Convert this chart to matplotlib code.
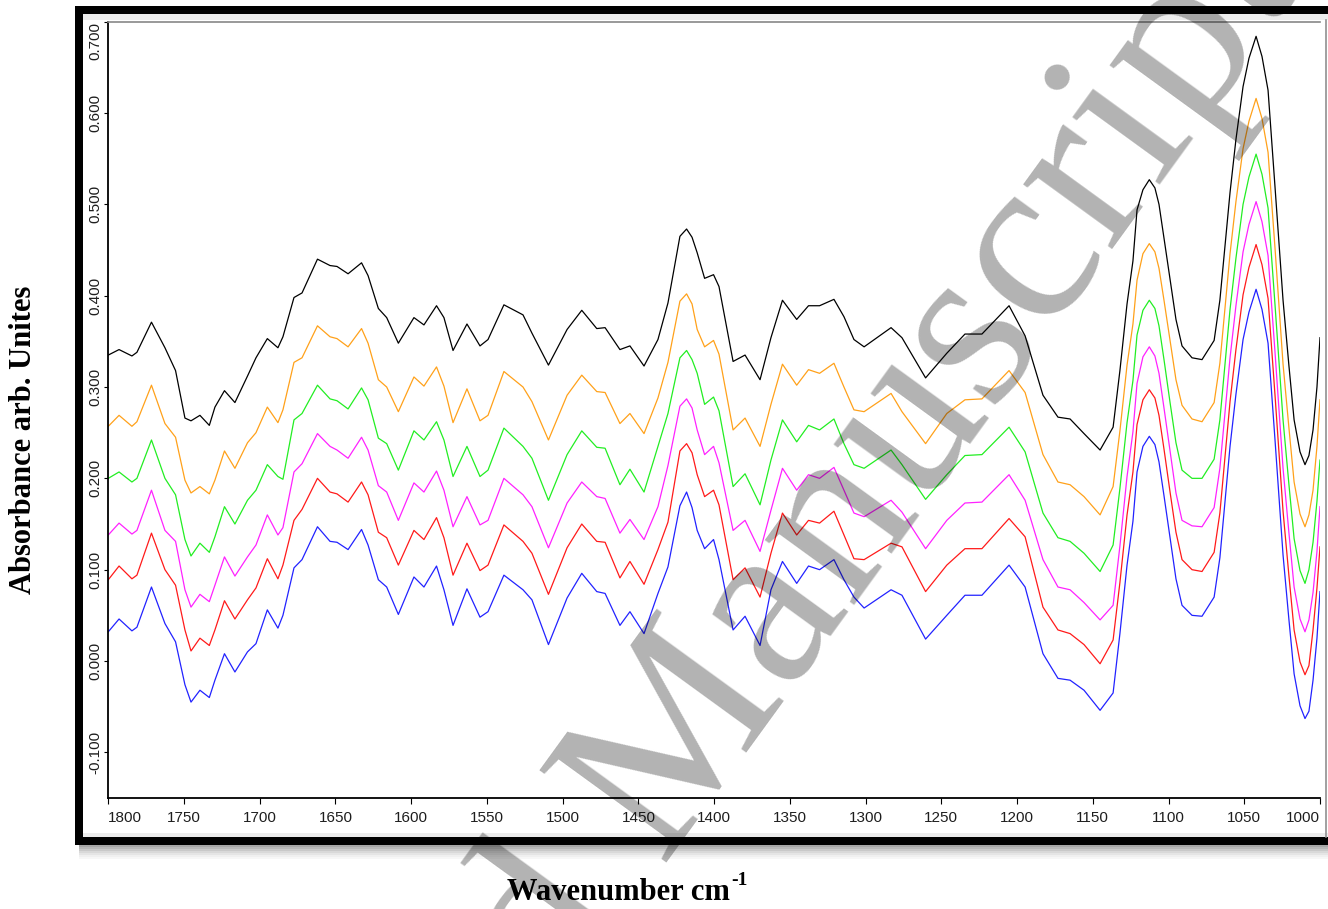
import matplotlib
matplotlib.use("Agg")
import matplotlib.pyplot as plt
from matplotlib.patches import Rectangle
from matplotlib.lines import Line2D
from matplotlib import font_manager

W, H = 1328, 909

# wavenumber grid (cm-1)
wavenumber = [
    1800.0, 1792.9, 1784.4, 1781.1, 1771.5, 1762.6, 1755.6, 1749.4, 1745.4, 1739.5,
    1733.3, 1729.6, 1723.3, 1716.4, 1708.1, 1702.5, 1695.0, 1688.0, 1684.7, 1677.4,
    1672.1, 1661.9, 1653.6, 1649.0, 1641.7, 1632.8, 1628.5, 1621.7, 1616.2, 1608.5,
    1598.2, 1591.6, 1583.3, 1578.4, 1572.4, 1563.2, 1554.6, 1549.3, 1538.8, 1526.2,
    1520.3, 1509.4, 1497.1, 1487.4, 1477.5, 1472.0, 1462.2, 1455.6, 1446.3, 1437.1,
    1430.5, 1422.6, 1418.2, 1414.6, 1411.2, 1406.3, 1400.4, 1396.8, 1387.5, 1379.6,
    1369.7, 1362.5, 1354.9, 1345.5, 1337.7, 1330.4, 1320.9, 1314.3, 1307.7, 1301.0,
    1283.2, 1276.0, 1260.4, 1246.4, 1234.4, 1223.2, 1205.3, 1194.7, 1182.9, 1173.0,
    1165.0, 1155.8, 1145.2, 1136.6, 1132.1, 1127.4, 1123.5, 1120.8, 1116.9, 1112.7,
    1109.0, 1106.3, 1103.0, 1099.0, 1095.1, 1091.1, 1084.5, 1077.9, 1069.9, 1066.1,
    1059.4, 1055.5, 1050.8, 1046.9, 1042.2, 1038.3, 1034.3, 1029.7, 1024.4, 1020.5,
    1017.1, 1013.2, 1009.9, 1007.3, 1004.6, 1002.0, 1000.0,
]

abs_black = [
    0.335, 0.341, 0.334, 0.338, 0.371, 0.343, 0.318, 0.266, 0.263, 0.269,
    0.258, 0.278, 0.296, 0.283, 0.312, 0.332, 0.353, 0.343, 0.355, 0.398,
    0.403, 0.440, 0.433, 0.432, 0.424, 0.436, 0.422, 0.386, 0.376, 0.348,
    0.376, 0.368, 0.389, 0.376, 0.340, 0.369, 0.345, 0.352, 0.390, 0.379,
    0.359, 0.324, 0.363, 0.384, 0.364, 0.365, 0.341, 0.345, 0.323, 0.352,
    0.392, 0.465, 0.473, 0.464, 0.447, 0.419, 0.423, 0.410, 0.328, 0.335,
    0.308, 0.354, 0.395, 0.374, 0.389, 0.389, 0.396, 0.377, 0.352, 0.344,
    0.365, 0.354, 0.310, 0.337, 0.358, 0.358, 0.389, 0.356, 0.291, 0.267,
    0.265, 0.249, 0.231, 0.256, 0.318, 0.391, 0.438, 0.494, 0.516, 0.527,
    0.518, 0.500, 0.463, 0.418, 0.374, 0.345, 0.332, 0.330, 0.351, 0.395,
    0.513, 0.571, 0.629, 0.660, 0.684, 0.662, 0.625, 0.519, 0.395, 0.323,
    0.264, 0.229, 0.215, 0.225, 0.253, 0.300, 0.354,
]

abs_orange = [
    0.257, 0.269, 0.257, 0.262, 0.302, 0.260, 0.245, 0.198, 0.184, 0.191,
    0.183, 0.198, 0.230, 0.211, 0.239, 0.250, 0.278, 0.261, 0.275, 0.327,
    0.332, 0.367, 0.355, 0.353, 0.344, 0.364, 0.348, 0.308, 0.300, 0.273,
    0.311, 0.301, 0.322, 0.301, 0.261, 0.298, 0.263, 0.269, 0.317, 0.300,
    0.284, 0.242, 0.291, 0.313, 0.295, 0.294, 0.260, 0.271, 0.249, 0.288,
    0.327, 0.394, 0.402, 0.391, 0.363, 0.344, 0.351, 0.336, 0.253, 0.266,
    0.235, 0.281, 0.325, 0.302, 0.319, 0.315, 0.326, 0.300, 0.275, 0.273,
    0.293, 0.273, 0.238, 0.271, 0.286, 0.287, 0.318, 0.294, 0.226, 0.196,
    0.193, 0.180, 0.160, 0.191, 0.252, 0.324, 0.369, 0.417, 0.446, 0.457,
    0.448, 0.430, 0.395, 0.351, 0.308, 0.280, 0.265, 0.262, 0.283, 0.326,
    0.446, 0.503, 0.561, 0.591, 0.616, 0.594, 0.557, 0.452, 0.325, 0.255,
    0.196, 0.161, 0.147, 0.160, 0.187, 0.235, 0.286,
]

abs_green = [
    0.200, 0.207, 0.196, 0.200, 0.242, 0.200, 0.182, 0.133, 0.115, 0.129,
    0.119, 0.136, 0.169, 0.150, 0.176, 0.187, 0.215, 0.202, 0.199, 0.264,
    0.271, 0.302, 0.287, 0.285, 0.276, 0.299, 0.286, 0.244, 0.238, 0.209,
    0.252, 0.242, 0.262, 0.242, 0.202, 0.235, 0.202, 0.209, 0.255, 0.235,
    0.222, 0.176, 0.226, 0.252, 0.234, 0.233, 0.193, 0.210, 0.185, 0.235,
    0.271, 0.332, 0.340, 0.330, 0.315, 0.281, 0.289, 0.274, 0.191, 0.205,
    0.171, 0.220, 0.264, 0.240, 0.258, 0.253, 0.265, 0.238, 0.215, 0.211,
    0.231, 0.215, 0.177, 0.204, 0.225, 0.226, 0.256, 0.229, 0.162, 0.135,
    0.131, 0.118, 0.098, 0.127, 0.189, 0.261, 0.307, 0.357, 0.384, 0.395,
    0.386, 0.367, 0.330, 0.283, 0.239, 0.209, 0.200, 0.200, 0.221, 0.264,
    0.385, 0.441, 0.500, 0.530, 0.555, 0.533, 0.496, 0.390, 0.264, 0.193,
    0.134, 0.099, 0.085, 0.100, 0.130, 0.175, 0.220,
]

abs_magenta = [
    0.138, 0.151, 0.139, 0.143, 0.187, 0.143, 0.131, 0.078, 0.059, 0.073,
    0.065, 0.083, 0.114, 0.093, 0.114, 0.127, 0.160, 0.138, 0.146, 0.207,
    0.216, 0.249, 0.235, 0.231, 0.222, 0.245, 0.231, 0.192, 0.185, 0.154,
    0.195, 0.185, 0.208, 0.187, 0.147, 0.180, 0.149, 0.154, 0.200, 0.182,
    0.169, 0.124, 0.173, 0.196, 0.180, 0.178, 0.140, 0.155, 0.133, 0.169,
    0.214, 0.279, 0.287, 0.277, 0.253, 0.226, 0.235, 0.217, 0.143, 0.154,
    0.120, 0.165, 0.211, 0.187, 0.204, 0.200, 0.212, 0.187, 0.162, 0.158,
    0.176, 0.163, 0.123, 0.154, 0.173, 0.174, 0.204, 0.176, 0.111, 0.081,
    0.078, 0.064, 0.045, 0.061, 0.126, 0.202, 0.251, 0.304, 0.333, 0.344,
    0.334, 0.315, 0.277, 0.230, 0.184, 0.154, 0.148, 0.147, 0.168, 0.211,
    0.332, 0.389, 0.448, 0.478, 0.503, 0.481, 0.444, 0.338, 0.211, 0.140,
    0.081, 0.046, 0.032, 0.045, 0.075, 0.120, 0.169,
]

abs_red = [
    0.089, 0.104, 0.090, 0.094, 0.140, 0.100, 0.083, 0.034, 0.011, 0.025,
    0.017, 0.034, 0.066, 0.046, 0.067, 0.080, 0.112, 0.090, 0.105, 0.154,
    0.166, 0.200, 0.185, 0.183, 0.174, 0.196, 0.182, 0.141, 0.135, 0.105,
    0.143, 0.133, 0.157, 0.135, 0.094, 0.129, 0.099, 0.105, 0.149, 0.131,
    0.118, 0.073, 0.124, 0.150, 0.131, 0.130, 0.091, 0.109, 0.084, 0.122,
    0.152, 0.230, 0.238, 0.228, 0.204, 0.180, 0.187, 0.171, 0.089, 0.102,
    0.070, 0.118, 0.162, 0.138, 0.154, 0.151, 0.164, 0.138, 0.112, 0.111,
    0.129, 0.125, 0.076, 0.105, 0.123, 0.123, 0.156, 0.136, 0.059, 0.034,
    0.030, 0.018, -0.003, 0.023, 0.086, 0.160, 0.207, 0.259, 0.286, 0.297,
    0.288, 0.269, 0.232, 0.185, 0.141, 0.111, 0.100, 0.098, 0.119, 0.162,
    0.284, 0.341, 0.401, 0.431, 0.456, 0.434, 0.397, 0.291, 0.164, 0.093,
    0.034, -0.001, -0.015, -0.005, 0.034, 0.080, 0.125,
]

abs_blue = [
    0.032, 0.046, 0.033, 0.037, 0.081, 0.041, 0.021, -0.026, -0.045, -0.032,
    -0.040, -0.021, 0.008, -0.012, 0.010, 0.019, 0.056, 0.036, 0.050, 0.102,
    0.111, 0.147, 0.131, 0.130, 0.122, 0.144, 0.127, 0.089, 0.081, 0.051,
    0.092, 0.081, 0.104, 0.078, 0.039, 0.079, 0.048, 0.054, 0.094, 0.078,
    0.067, 0.018, 0.069, 0.096, 0.076, 0.074, 0.039, 0.054, 0.030, 0.074,
    0.103, 0.170, 0.185, 0.168, 0.143, 0.123, 0.133, 0.111, 0.034, 0.049,
    0.017, 0.078, 0.109, 0.085, 0.104, 0.100, 0.111, 0.089, 0.070, 0.058,
    0.078, 0.072, 0.024, 0.050, 0.072, 0.072, 0.105, 0.081, 0.008, -0.019,
    -0.021, -0.032, -0.054, -0.035, 0.030, 0.105, 0.153, 0.207, 0.235, 0.246,
    0.237, 0.218, 0.181, 0.135, 0.090, 0.061, 0.050, 0.049, 0.070, 0.113,
    0.235, 0.292, 0.352, 0.382, 0.407, 0.385, 0.348, 0.242, 0.116, 0.045,
    -0.014, -0.049, -0.063, -0.055, -0.021, 0.025, 0.076,
]

x_ticks = [1800, 1750, 1700, 1650, 1600, 1550, 1500, 1450, 1400, 1350,
           1300, 1250, 1200, 1150, 1100, 1050, 1000]
y_ticks = [-0.1, 0.0, 0.1, 0.2, 0.3, 0.4, 0.5, 0.6, 0.7]


def box(x0, y0, x1, y1):
    # pixel box (top-left origin) -> figure fraction rectangle
    return (x0 / W, 1 - y1 / H), (x1 - x0) / W, (y1 - y0) / H


def main():
    names = {f.name for f in font_manager.fontManager.ttflist}
    if "Liberation Sans Narrow" in names:
        tick_font, tick_size = "Liberation Sans Narrow", 12.5
    else:
        tick_font, tick_size = "Liberation Sans", 11

    fig = plt.figure(figsize=(W / 100, H / 100), dpi=100)
    fig.patch.set_facecolor("white")

    # framed panel with drop shadow
    for i, a in enumerate([0.35, 0.28, 0.21, 0.15, 0.10, 0.06, 0.03]):
        xy, w, h = box(79, 845 + 2 * i, 1340, 847 + 2 * i)
        fig.patches.append(Rectangle(xy, w, h, transform=fig.transFigure,
                                     facecolor="black", alpha=a, lw=0, zorder=-10))
    for (x0, y0, x1, y1), c in [((75, 6, 1340, 845), "black"),
                                ((83, 14, 1340, 837), "white"),
                                ((83, 14, 1340, 20), "#ececec"),
                                ((83, 833, 1340, 837), "#ececec")]:
        xy, w, h = box(x0, y0, x1, y1)
        fig.patches.append(Rectangle(xy, w, h, transform=fig.transFigure,
                                     facecolor=c, lw=0, zorder=-9))
    fig.lines.append(Line2D([1326 / W, 1326 / W], [1 - 837 / H, 1 - 20 / H],
                            transform=fig.transFigure, color="#909090", lw=1.2, zorder=-8))

    ax = fig.add_axes([108.3 / W, 1 - 798 / H, (1320 - 108.3) / W, (798 - 21.7) / H])
    ax.set_facecolor("white")

    series = [(abs_black, "black"), (abs_orange, "#ffa11a"), (abs_green, "#22ee22"),
              (abs_magenta, "#ff22ff"), (abs_red, "#ff1a1a"), (abs_blue, "#2222ff")]
    for vals, col in series:
        ax.plot(wavenumber, vals, color=col, lw=0.9, solid_joinstyle="round")

    ax.set_xlim(1800, 1000)
    ax.set_ylim(-0.15, 0.70)

    ax.set_xticks(x_ticks, labels=[str(t) for t in x_ticks])
    ax.set_yticks(y_ticks, labels=[f"{t:.3f}" for t in y_ticks])
    ax.tick_params(axis="x", direction="out", length=4.3, width=0.8, pad=5,
                   labelsize=tick_size, labelcolor="#1e1e1e")
    ax.tick_params(axis="y", direction="out", length=3, width=0.8, pad=1,
                   labelsize=tick_size, labelcolor="#1e1e1e", labelrotation=90)
    for lab in ax.get_xticklabels() + ax.get_yticklabels():
        lab.set_family(tick_font)
    yticks = ax.yaxis.get_major_ticks()
    for t in yticks:
        t.label1.set_va("center")
    yticks[-1].label1.set_va("top")
    xticks = ax.xaxis.get_major_ticks()
    xticks[0].label1.set_ha("left")
    xticks[-1].label1.set_ha("right")

    for side in ("left", "bottom"):
        ax.spines[side].set_color("black")
        ax.spines[side].set_linewidth(1.3)
    ax.spines["top"].set_color("#888888")
    ax.spines["top"].set_linewidth(1.2)
    ax.spines["right"].set_visible(False)

    fig.text(24 / W, 1 - 440 / H, "Absorbance arb. Unites", rotation=90,
             ha="center", va="center", family="Liberation Serif",
             weight="bold", fontsize=22)
    xl = fig.text(507 / W, 1 - 900 / H, "Wavenumber cm",
                  ha="left", va="baseline", family="Liberation Serif",
                  weight="bold", fontsize=22)
    bb = xl.get_window_extent(fig.canvas.get_renderer())
    fig.text((bb.x1 + 1) / W, 1 - 885 / H, "-1", ha="left", va="baseline",
             family="Liberation Serif", weight="bold", fontsize=14)

    # diagonal watermark
    fig.text(700 / W, 1 - 816 / H, "Accepted Manuscript", rotation=54,
             rotation_mode="anchor", ha="center", va="baseline",
             family="Liberation Serif", fontsize=173, color="black",
             alpha=0.3, zorder=10)

    fig.savefig("out.png", dpi=100)
    plt.close(fig)


if __name__ == "__main__":
    main()
